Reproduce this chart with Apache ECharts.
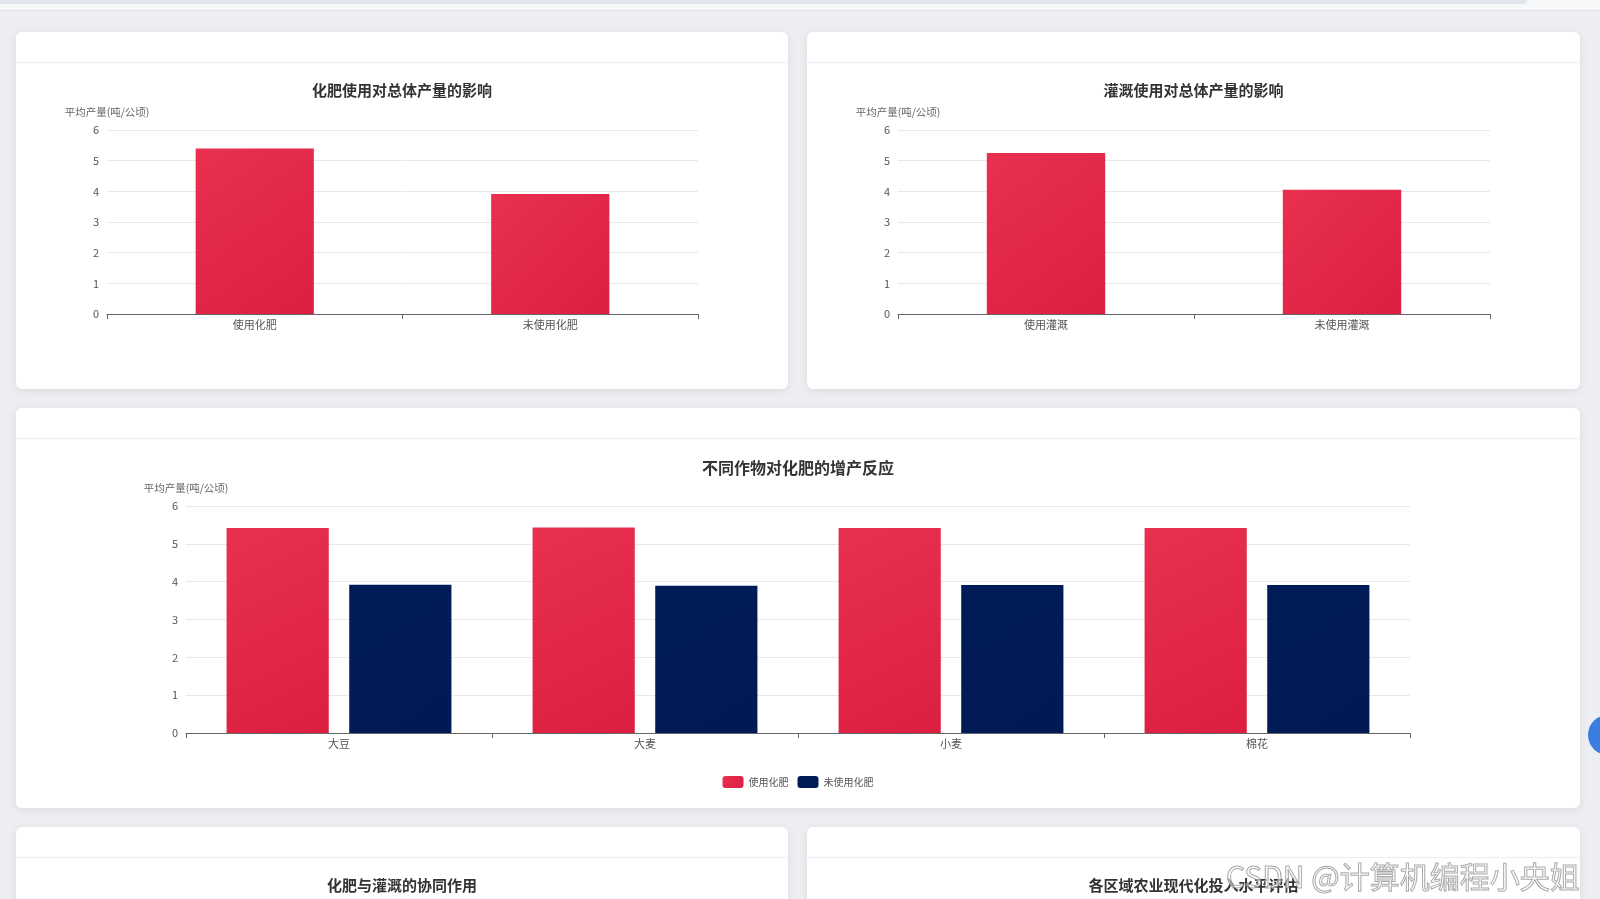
<!DOCTYPE html>
<html lang="zh-CN">
<head>
<meta charset="utf-8">
<title>化肥与灌溉产量分析</title>
<script src="https://cdn.jsdelivr.net/npm/echarts@6/dist/echarts.min.js"></script>
<style>
  html, body { margin: 0; padding: 0; width: 1600px; height: 899px; overflow: hidden; background: #eceef2; font-family: "Noto Sans CJK SC", "Noto Sans", sans-serif; }
  .topbar { position: absolute; left: 0; top: 0; width: 1600px; height: 10px; background: #f6f7f9; border-bottom: 1px solid #e2e4e8; }
  .topbar .band { position: absolute; left: 0; top: 0; width: 1527px; height: 4px; background: #e1e6ed; border-radius: 0 0 8px 0; }
  .card { position: absolute; background: #fff; border-radius: 6px; box-shadow: 0 2px 10px rgba(0, 0, 0, 0.08); overflow: hidden; }
  .card .head { height: 30px; border-bottom: 1px solid #eceef1; }
  .card .body { position: absolute; left: 0; right: 0; top: 31px; bottom: 0; }
  .fab { position: absolute; left: 1588px; top: 715px; width: 40px; height: 40px; border-radius: 50%; background: #3b7de0; }
  .mark { position: absolute; left: 1226px; top: 853px; font-size: 30px; white-space: nowrap; color: rgba(255, 255, 255, 0.55); -webkit-text-stroke: 1px rgba(140, 140, 140, 0.75); }
</style>
</head>
<body>
<div class="topbar"><div class="band"></div></div>

<div class="card" style="left:16px;top:32px;width:772px;height:357px"><div class="head"></div><div class="body" id="chart-fert"></div></div>
<div class="card" style="left:807px;top:32px;width:773px;height:357px"><div class="head"></div><div class="body" id="chart-irr"></div></div>
<div class="card" style="left:16px;top:408px;width:1564px;height:400px"><div class="head"></div><div class="body" id="chart-crop"></div></div>
<div class="card" style="left:16px;top:827px;width:772px;height:400px"><div class="head"></div><div class="body" id="chart-synergy"></div></div>
<div class="card" style="left:807px;top:827px;width:773px;height:400px"><div class="head"></div><div class="body" id="chart-region"></div></div>

<div class="fab"></div>
<div class="mark">CSDN @计算机编程小央姐</div>

<script>
(function () {
  'use strict';

  // ── Data ──

  var fertCats = ['使用化肥', '未使用化肥'];
  var fertYield = [5.40, 3.91];

  var irrCats = ['使用灌溉', '未使用灌溉'];
  var irrYield = [5.25, 4.05];

  var crops = ['大豆', '大麦', '小麦', '棉花'];
  var cropWithFert = [5.42, 5.43, 5.42, 5.42];
  var cropNoFert = [3.92, 3.89, 3.91, 3.91];

  var yName = '平均产量(吨/公顷)';
  var yTicks = { min: 0, max: 6, interval: 1 };

  // ── Shared chart config ──

  var FONT = '"Noto Sans CJK SC", "Noto Sans", sans-serif';
  var RED = new echarts.graphic.LinearGradient(0, 0, 1, 1, [
    { offset: 0, color: '#e8304f' },
    { offset: 1, color: '#dc1f41' }
  ]);
  var NAVY = new echarts.graphic.LinearGradient(0, 0, 1, 1, [
    { offset: 0, color: '#001c58' },
    { offset: 1, color: '#001a53' }
  ]);

  function baseTitle(text, size, top) {
    return {
      text: text,
      left: 'center',
      top: top,
      textStyle: { color: '#333', fontSize: size, fontWeight: 'bold', fontFamily: FONT }
    };
  }

  function catAxis(cats) {
    return {
      type: 'category',
      data: cats,
      axisLine: { show: true, lineStyle: { color: '#666', width: 1 } },
      axisTick: { show: true, lineStyle: { color: '#666' } },
      axisLabel: { color: '#555', fontSize: 11, fontFamily: FONT, margin: 5 },
      splitLine: { show: false }
    };
  }

  function valAxis() {
    return {
      type: 'value',
      name: yName,
      min: yTicks.min,
      max: yTicks.max,
      interval: yTicks.interval,
      nameTextStyle: { color: '#666', fontSize: 10.5, fontFamily: FONT },
      nameGap: 13,
      axisLine: { show: false },
      axisTick: { show: false },
      axisLabel: { color: '#555', fontSize: 11, fontFamily: FONT, margin: 8 },
      splitLine: { lineStyle: { color: '#e9e9ec', width: 1 } }
    };
  }

  function initChart(id) {
    return echarts.init(document.getElementById(id), null, { renderer: 'canvas' });
  }

  // ── Chart builders ──

  function chartSingle(id, title, cats, values) {
    var chart = initChart(id);
    chart.setOption({
      animation: false,
      title: baseTitle(title, 15, 15),
      tooltip: { trigger: 'axis' },
      grid: { left: 91, right: 90, top: 67, bottom: 75, containLabel: false },
      xAxis: catAxis(cats),
      yAxis: valAxis(),
      series: [{
        type: 'bar',
        data: values,
        barWidth: '40%',
        itemStyle: { color: RED }
      }]
    });
    return chart;
  }

  function chartCrops() {
    var chart = initChart('chart-crop');
    chart.setOption({
      animation: false,
      title: baseTitle('不同作物对化肥的增产反应', 16, 16),
      tooltip: { trigger: 'axis' },
      legend: {
        data: ['使用化肥', '未使用化肥'],
        left: 'center',
        top: 332,
        itemWidth: 21,
        itemHeight: 12,
        itemGap: 9,
        textStyle: { color: '#555', fontSize: 10, fontFamily: FONT }
      },
      grid: { left: 170, right: 170, top: 67, bottom: 75, containLabel: false },
      xAxis: catAxis(crops),
      yAxis: valAxis(),
      series: [
        { name: '使用化肥', type: 'bar', data: cropWithFert, barWidth: '33.4%', barGap: '20%', itemStyle: { color: RED } },
        { name: '未使用化肥', type: 'bar', data: cropNoFert, barWidth: '33.4%', barGap: '20%', itemStyle: { color: NAVY } }
      ]
    });
    return chart;
  }

  function chartTitleOnly(id, title) {
    var chart = initChart(id);
    chart.setOption({ animation: false, title: baseTitle(title, 15, 15) });
    return chart;
  }

  // ── Main ──

  var charts = [
    chartSingle('chart-fert', '化肥使用对总体产量的影响', fertCats, fertYield),
    chartSingle('chart-irr', '灌溉使用对总体产量的影响', irrCats, irrYield),
    chartCrops(),
    chartTitleOnly('chart-synergy', '化肥与灌溉的协同作用'),
    chartTitleOnly('chart-region', '各区域农业现代化投入水平评估')
  ];

  window.addEventListener('resize', function () {
    charts.forEach(function (c) { c.resize(); });
  });
})();
</script>
</body>
</html>
